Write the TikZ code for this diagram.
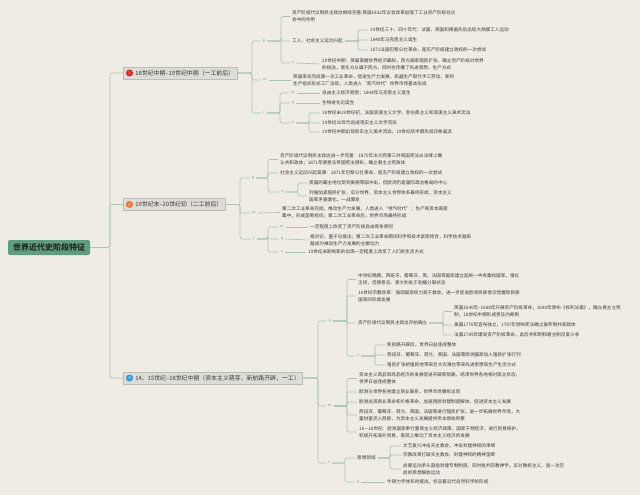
\documentclass[tikz,border=0pt]{standalone}
\usepackage{fontspec}
\newfontfamily\cjk{Noto Sans CJK SC}
\definecolor{bgc}{HTML}{EFECE4}
\definecolor{linec}{HTML}{A9C4B2}
\definecolor{txtc}{HTML}{3A3A38}
\definecolor{rootc}{HTML}{5E9D7F}
\definecolor{boxc}{HTML}{DDDCD6}
\definecolor{boxd}{HTML}{BDBCB6}
\definecolor{redc}{HTML}{D8261B}
\definecolor{orc}{HTML}{E8772C}
\definecolor{bluec}{HTML}{2B9BE0}
\tikzset{
 conn/.style={draw=linec, line width=0.65pt, rounded corners=2pt},
 txt/.style={anchor=west, inner xsep=2pt, inner ysep=0.5pt, text=txtc, align=left, font=\cjk\fontsize{4.6}{7}\selectfont},
 lbl/.style={inner sep=2pt, text=txtc!70, font=\sffamily\fontsize{3.8}{4}\selectfont},
 branch/.style={anchor=west, draw=boxd, fill=boxc, line width=0.6pt, minimum height=12pt, inner xsep=3pt, inner ysep=0pt, text=txtc, font=\cjk\fontsize{5.9}{6}\selectfont},
 numc/.style={circle, fill=#1, inner sep=0pt, minimum size=7pt, text=white, font=\sffamily\fontsize{4.5}{5}\selectfont},
}
\begin{document}
\begin{tikzpicture}[x=1pt,y=-1pt]
\fill[bgc] (0,0) rectangle (640,495);
\useasboundingbox (0,0) rectangle (640,495);
% root
\node[fill=rootc, rounded corners=2pt, minimum width=82pt, minimum height=15pt, inner sep=0pt, font=\cjk\bfseries\fontsize{8}{9}\selectfont, text=black!85] (root) at (49,247.5) {世界近代史阶段特征};
% branches
\node[branch] (b1) at (123,73) {\hspace{9pt}18世纪中期–19世纪中期（一工前后）};
\node[numc=redc] (n1) at ([xshift=6.5pt]b1.west) {1};
\node[branch] (b2) at (123,204.5) {\hspace{9pt}19世纪末–20世纪初（二工前后）};
\node[numc=orc] (n2) at ([xshift=6.5pt]b2.west) {2};
\node[branch] (b3) at (123,378) {\hspace{9pt}14、15世纪–18世纪中期（资本主义萌芽，新航路开辟，一工）};
\node[numc=bluec] (n3) at ([xshift=6.5pt]b3.west) {3};
\coordinate (vr) at (110,247.5);
\draw[conn] (root.east) -- (vr) |- (b1.west);
\draw[conn] (root.east) -- (vr) |- (b2.west);
\draw[conn] (root.east) -- (vr) |- (b3.west);

% ===== branch 1 =====
\node[lbl] (L1p) at (264,41) {p};
\node[lbl] (L1m) at (265,80) {m};
\node[lbl] (L1r) at (264,113) {r};
\coordinate (v1) at (252,73);
\draw[conn] (b1.east) -- (v1) |- (L1p.west);
\draw[conn] (b1.east) -- (v1) |- (L1m.west);
\draw[conn] (b1.east) -- (v1) |- (L1r.west);

\node[txt] (T1p1) at (290,16.5) {资产阶级代议制民主政治继续完善:英国1832年议会改革加强了工业资产阶级在议\\会中的作用};
\node[txt] (T1p2) at (290,41) {工人、社会主义运动兴起};
\node[lbl] (L1px) at (293,63) {x};
\node[txt] (T1p3) at (320,64) {20世纪中期：英国掌握世界经济霸权，西方国家殖民扩张，确立资产阶级对世界\\的统治，使东方从属于西方，同时也传播了先进思想、生产方式};
\coordinate (v1p) at (281,41);
\draw[conn] (L1p.east) -- (v1p) |- (T1p1.west);
\draw[conn] (L1p.east) -- (v1p) |- (T1p2.west);
\draw[conn] (L1p.east) -- (v1p) |- (L1px.west);
\draw[conn] (L1px.east) -- (T1p3.west);

\node[txt] (T1p2a) at (368,30) {19世纪三十、四十年代：法国、英国和德国先后出现大规模工人运动};
\node[txt] (T1p2b) at (368,40) {1848年马克思主义诞生};
\node[txt] (T1p2c) at (368,50) {1871法国巴黎公社革命，是无产阶级建立政权的一次尝试};
\coordinate (v1p2) at (358,41);
\draw[conn] (T1p2.east) -- (v1p2) |- (T1p2a.west);
\draw[conn] (T1p2.east) -- (v1p2) |- (T1p2b.west);
\draw[conn] (T1p2.east) -- (v1p2) |- (T1p2c.west);

\node[txt] (T1m) at (291,80) {英国率先完成第一次工业革命，促进生产力发展，机器生产取代手工劳动，新的\\生产组织形式工厂出现，人类进入“蒸汽时代”世界市场基本形成};
\draw[conn] (L1m.east) -- (T1m.west);

\node[lbl] (L1rm) at (293,93) {m};
\node[lbl] (L1rq) at (293,103) {q};
\node[lbl] (L1rx) at (293,123) {x};
\coordinate (v1r) at (280,113);
\draw[conn] (L1r.east) -- (v1r) |- (L1rm.west);
\draw[conn] (L1r.east) -- (v1r) |- (L1rq.west);
\draw[conn] (L1r.east) -- (v1r) |- (L1rx.west);
\node[txt] (T1rm) at (320,93) {自由主义经济思想；1848年马克思主义诞生};
\node[txt] (T1rq) at (320,103) {生物进化论诞生};
\draw[conn] (L1rm.east) -- (T1rm.west);
\draw[conn] (L1rq.east) -- (T1rq.west);
\node[txt] (T1rx1) at (320,113) {18世纪末19世纪初，法国浪漫主义文学、新古典主义和浪漫主义美术流派};
\node[txt] (T1rx2) at (320,123) {19世纪30年代后成现实主义文学流派};
\node[txt] (T1rx3) at (320,132) {19世纪中期出现现实主义美术流派，19世纪后半期形成印象画派};
\coordinate (v1rx) at (309,123);
\draw[conn] (L1rx.east) -- (v1rx) |- (T1rx1.west);
\draw[conn] (L1rx.east) -- (v1rx) |- (T1rx2.west);
\draw[conn] (L1rx.east) -- (v1rx) |- (T1rx3.west);

% ===== branch 2 =====
\node[lbl] (L2p) at (253,178) {p};
\node[lbl] (L2m) at (254,213) {m};
\node[lbl] (L2r) at (254,239) {r};
\coordinate (v2) at (240,204.5);
\draw[conn] (b2.east) -- (v2) |- (L2p.west);
\draw[conn] (b2.east) -- (v2) |- (L2m.west);
\draw[conn] (b2.east) -- (v2) |- (L2r.west);

\node[txt] (T2p1) at (278,159.5) {资产阶级代议制民主政治进一步完善：1875年法兰西第三共和国宪法从法律上确\\认共和政体；1871年德意志帝国宪法颁布，确立君主立宪政体};
\node[txt] (T2p2) at (278,173) {社会主义运动兴起高潮：1871年巴黎公社革命，是无产阶级建立政权的一次尝试};
\node[lbl] (L2px) at (282,192) {x};
\coordinate (v2p) at (268,178);
\draw[conn] (L2p.east) -- (v2p) |- (T2p1.west);
\draw[conn] (L2p.east) -- (v2p) |- (T2p2.west);
\draw[conn] (L2p.east) -- (v2p) |- (L2px.west);
\node[txt] (T2px1) at (307,183) {英国的霸主地位受到美德等国冲击，但欧洲仍是国际政治格局的中心};
\node[txt] (T2px2) at (307,196) {列强加紧殖民扩张，瓜分世界，资本主义世界体系最终形成；资本主义\\国家矛盾激化，一战爆发};
\coordinate (v2px) at (298,192);
\draw[conn] (L2px.east) -- (v2px) |- (T2px1.west);
\draw[conn] (L2px.east) -- (v2px) |- (T2px2.west);

\node[txt] (T2m) at (280,212.5) {第二次工业革命完成，推动生产力发展，人类进入“电气时代”；生产和资本高度\\集中，形成垄断组织；第二次工业革命后，世界市场最终形成};
\draw[conn] (L2m.east) -- (T2m.west);

\node[lbl] (L2rm) at (282,227) {m};
\node[lbl] (L2rq) at (282,239) {q};
\node[lbl] (L2rx) at (282,252) {x};
\coordinate (v2r) at (268,239);
\draw[conn] (L2r.east) -- (v2r) |- (L2rm.west);
\draw[conn] (L2r.east) -- (v2r) |- (L2rq.west);
\draw[conn] (L2r.east) -- (v2r) |- (L2rx.west);
\node[txt] (T2rm) at (308,227) {一定程度上改变了资产阶级自由竞争原则};
\node[txt] (T2rq) at (308,240) {相对论、量子论提出；第二次工业革命期间科学和技术紧密结合，科学技术越来\\越成为推动生产力发展的主要动力};
\node[txt] (T2rx) at (306,252) {19世纪末期电影的出现一定程度上改变了人们的生活方式};
\draw[conn] (L2rm.east) -- (T2rm.west);
\draw[conn] (L2rq.east) -- (T2rq.west);
\draw[conn] (L2rx.east) -- (T2rx.west);

% ===== branch 3 =====
\node[lbl] (L3p) at (330,321) {p};
\node[lbl] (L3m) at (330,406) {m};
\node[lbl] (L3r) at (329,463) {r};
\coordinate (v3) at (318,378);
\draw[conn] (b3.east) -- (v3) |- (L3p.west);
\draw[conn] (b3.east) -- (v3) |- (L3m.west);
\draw[conn] (b3.east) -- (v3) |- (L3r.west);

\node[txt] (T3p1) at (356,279.5) {中世纪晚期，西班牙、葡萄牙、英、法国等国家建立起统一中央集权国家，强化\\王权，但德意志、意大利处于割据分裂状态};
\node[txt] (T3p2) at (356,296) {16世纪宗教改革：强调国家权力高于教会，进一步促进欧洲民族意识觉醒和民族\\国家的形成发展};
\node[txt] (T3p3) at (356,323) {资产阶级代议制民主政治开始确立};
\node[lbl] (L3px) at (358,356) {x};
\coordinate (v3p) at (347,321);
\draw[conn] (L3p.east) -- (v3p) |- (T3p1.west);
\draw[conn] (L3p.east) -- (v3p) |- (T3p2.west);
\draw[conn] (L3p.east) -- (v3p) |- (T3p3.west);
\draw[conn] (L3p.east) -- (v3p) |- (L3px.west);

\node[txt] (T3p3a) at (452,311.5) {英国1640年–1688年开展资产阶级革命，1689年颁布《权利法案》，确立君主立宪\\制，18世纪中期形成责任内阁制};
\node[txt] (T3p3b) at (452,325) {美国1776年宣布独立，1787年颁布宪法确立联邦制共和政体};
\node[txt] (T3p3c) at (452,335) {法国1789年爆发资产阶级革命，此后共和制和君主制反复斗争};
\coordinate (v3p3) at (443,323);
\draw[conn] (T3p3.east) -- (v3p3) |- (T3p3a.west);
\draw[conn] (T3p3.east) -- (v3p3) |- (T3p3b.west);
\draw[conn] (T3p3.east) -- (v3p3) |- (T3p3c.west);

\node[txt] (T3px1) at (385,345) {新航路开辟后，世界日益连成整体};
\node[txt] (T3px2) at (385,355) {西班牙、葡萄牙、荷兰、英国、法国等欧洲国家加入殖民扩张行列};
\node[txt] (T3px3) at (385,365) {殖民扩张给殖民地带来巨大灾难也带来先进思想和生产生活方式};
\coordinate (v3px) at (375,356);
\draw[conn] (L3px.east) -- (v3px) |- (T3px1.west);
\draw[conn] (L3px.east) -- (v3px) |- (T3px2.west);
\draw[conn] (L3px.east) -- (v3px) |- (T3px3.west);

\node[txt] (T3m1) at (357,378.5) {资本主义商品和商品经济的发展促进开辟新航路，结束世界各地相对孤立状态，\\世界日益连成整体};
\node[txt] (T3m2) at (357,392) {欧洲与世界各地建立商业联系，世界市场雏形出现};
\node[txt] (T3m3) at (357,402) {欧洲出现商业革命和价格革命，加速西欧封建制度解体，促进资本主义发展};
\node[txt] (T3m4) at (357,415) {西班牙、葡萄牙、荷兰、英国、法国等进行殖民扩张，进一步拓展世界市场，大\\量财富流入西欧，为资本主义发展提供资本原始积累};
\node[txt] (T3m5) at (357,432) {16—18世纪：欧洲国家奉行重商主义经济政策，国家干预经济，进行贸易保护，\\积极开拓海外贸易，客观上推动了资本主义经济的发展};
\coordinate (v3m) at (347,406);
\draw[conn] (L3m.east) -- (v3m) |- (T3m1.west);
\draw[conn] (L3m.east) -- (v3m) |- (T3m2.west);
\draw[conn] (L3m.east) -- (v3m) |- (T3m3.west);
\draw[conn] (L3m.east) -- (v3m) |- (T3m4.west);
\draw[conn] (L3m.east) -- (v3m) |- (T3m5.west);

\node[txt] (T3r1) at (355,458) {思想领域};
\node[lbl] (L3rq) at (358,482) {q};
\coordinate (v3r) at (345,463);
\draw[conn] (L3r.east) -- (v3r) |- (T3r1.west);
\draw[conn] (L3r.east) -- (v3r) |- (L3rq.west);
\node[txt] (T3rq) at (385,482) {牛顿力学体系的提出，标志着近代自然科学的形成};
\draw[conn] (L3rq.east) -- (T3rq.west);

\node[txt] (T3r1a) at (401,446) {文艺复兴冲击天主教会，冲击封建神权的束缚};
\node[txt] (T3r1b) at (401,455) {宗教改革打破天主教会、封建神权的精神垄断};
\node[txt] (T3r1c) at (401,469) {启蒙运动矛头直指封建专制制度，同时批判宗教神学，反对教权主义，是一次空\\前的思想解放运动};
\coordinate (v3r1) at (390,458);
\draw[conn] (T3r1.east) -- (v3r1) |- (T3r1a.west);
\draw[conn] (T3r1.east) -- (v3r1) |- (T3r1b.west);
\draw[conn] (T3r1.east) -- (v3r1) |- (T3r1c.west);
\end{tikzpicture}
\end{document}
